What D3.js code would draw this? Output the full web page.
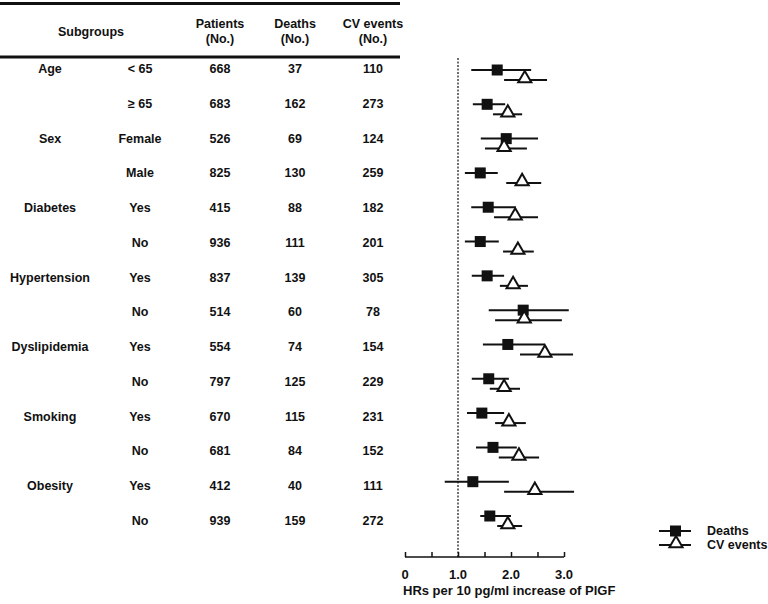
<!DOCTYPE html>
<html><head><meta charset="utf-8">
<script src="https://cdn.jsdelivr.net/npm/d3@7"></script>
<style>body{margin:0;background:#fff}svg{display:block}text{font-family:"Liberation Sans",Arial,sans-serif;font-weight:bold;font-size:12.5px;fill:#111}</style>
</head><body><svg id="c" width="768" height="604"></svg>
<script>
const groups = ["Age","","Sex","","Diabetes","","Hypertension","","Dyslipidemia","","Smoking","","Obesity",""];
const subs = ["< 65","≥ 65","Female","Male","Yes","No","Yes","No","Yes","No","Yes","No","Yes","No"];
const patients = [668,683,526,825,415,936,837,514,554,797,670,681,412,939];
const deaths = [37,162,69,130,88,111,139,60,74,125,115,84,40,159];
const cvEvents = [110,273,124,259,182,201,305,78,154,229,231,152,111,272];
const deathHR = [1.74,1.55,1.91,1.42,1.57,1.42,1.55,2.23,1.94,1.58,1.45,1.66,1.28,1.60];
const deathLo = [1.25,1.28,1.43,1.13,1.25,1.13,1.26,1.58,1.47,1.26,1.17,1.34,0.75,1.42];
const deathHi = [2.38,1.89,2.51,1.75,2.09,1.77,1.87,3.09,2.64,1.96,1.87,2.11,1.96,2.00];
const cvHR = [2.26,1.94,1.87,2.21,2.08,2.13,2.04,2.25,2.64,1.87,1.96,2.15,2.45,1.94];
const cvLo = [1.87,1.66,1.51,1.91,1.68,1.85,1.79,1.70,2.17,1.60,1.70,1.77,1.87,1.74];
const cvHi = [2.68,2.21,2.30,2.57,2.51,2.43,2.32,2.96,3.17,2.17,2.28,2.53,3.19,2.21];
const ticks = [0,0.5,1,1.5,2,2.5,3];
const tickLabels = {0:"0",1:"1.0",2:"2.0",3:"3.0"};
const headers = [["Subgroups"],["Patients","(No.)"],["Deaths","(No.)"],["CV events","(No.)"]];
const legendLabels = ["Deaths","CV events"];

const svg = d3.select("#c");
const idx = d3.range(subs.length);
const yText = d3.scalePoint().domain(idx).range([69,521]);
const yMark = d3.scalePoint().domain(idx).range([70,516]);
const x = d3.scaleLinear().domain([0,3]).range([405,564]);
const colX = [50,140,220,295,373];

// table rules
svg.append("line").attr("x1",0).attr("x2",400).attr("y1",3.5).attr("y2",3.5).attr("stroke","#111").attr("stroke-width",3);
svg.append("line").attr("x1",0).attr("x2",400).attr("y1",57).attr("y2",57).attr("stroke","#111").attr("stroke-width",3);

// headers
const hx = [91,220,295,373];
headers.forEach((h,i)=>{
  h.forEach((t,j)=>{
    svg.append("text").attr("x",hx[i]).attr("y",h.length===1?32:24+15*j)
      .attr("text-anchor","middle").attr("dominant-baseline","central").text(t);
  });
});

// table rows
idx.forEach(i=>{
  const vals=[groups[i],subs[i],patients[i],deaths[i],cvEvents[i]];
  vals.forEach((v,k)=>{
    if(v==="")return;
    svg.append("text").attr("x",colX[k]).attr("y",yText(i)).attr("text-anchor","middle")
      .attr("dominant-baseline","central").text(v);
  });
});

// reference line
svg.append("line").attr("x1",x(1)).attr("x2",x(1)).attr("y1",58).attr("y2",557)
  .attr("stroke","#111").attr("stroke-width",1.2).attr("stroke-dasharray","2,1.5");

// axis
const axis = d3.axisTop(x).tickValues(ticks).tickSize(5).tickFormat(()=> "");
const ag = svg.append("g").attr("transform","translate(0,557)").call(axis);
ag.selectAll("path").attr("d",`M${x(0)},0H${x(3)}`).attr("stroke","#111").attr("stroke-width",1.5);
ag.selectAll("line").attr("stroke","#111").attr("stroke-width",1.5);
ticks.forEach(t=>{
  if(tickLabels[t]===undefined)return;
  svg.append("text").attr("x",x(t)).attr("y",574).attr("text-anchor","middle")
    .attr("dominant-baseline","central").style("font-size","13px").text(tickLabels[t]);
});
svg.append("text").attr("x",403).attr("y",590).attr("dominant-baseline","central").style("font-size","13px")
  .text("HRs per 10 pg/ml increase of PlGF");

// markers
const tri = d3.symbol().type(d3.symbolTriangle).size(75);
idx.forEach(i=>{
  const ys=yMark(i), yt=yMark(i)+10;
  svg.append("line").attr("x1",x(deathLo[i])).attr("x2",x(deathHi[i])).attr("y1",ys).attr("y2",ys).attr("stroke","#111").attr("stroke-width",2);
  svg.append("rect").attr("x",x(deathHR[i])-5.5).attr("y",ys-5.5).attr("width",11).attr("height",11).attr("fill","#111");
  svg.append("line").attr("x1",x(cvLo[i])).attr("x2",x(cvHi[i])).attr("y1",yt).attr("y2",yt).attr("stroke","#111").attr("stroke-width",2);
  svg.append("path").attr("d",tri).attr("transform",`translate(${x(cvHR[i])},${yt-1.5})`).attr("fill","#fff").attr("stroke","#111").attr("stroke-width",2);
});

// legend
const ly=[531,545];
legendLabels.forEach((l,i)=>{
  svg.append("line").attr("x1",659).attr("x2",691).attr("y1",ly[i]).attr("y2",ly[i]).attr("stroke","#111").attr("stroke-width",2);
  if(i===0) svg.append("rect").attr("x",670).attr("y",ly[i]-5.5).attr("width",11).attr("height",11).attr("fill","#111");
  else svg.append("path").attr("d",tri).attr("transform",`translate(676,${ly[i]-1.5})`).attr("fill","#fff").attr("stroke","#111").attr("stroke-width",2);
  svg.append("text").attr("x",707).attr("y",ly[i]).attr("dominant-baseline","central").text(l);
});
</script></body></html>
